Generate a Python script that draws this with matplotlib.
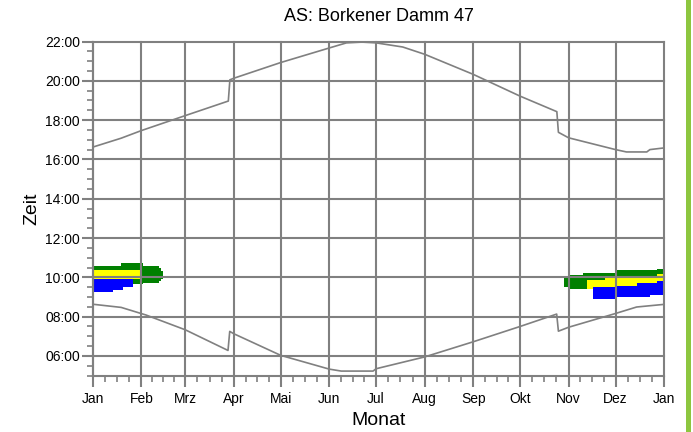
import matplotlib
matplotlib.use("Agg")
import matplotlib.pyplot as plt
from matplotlib.patches import Rectangle
import numpy as np

plt.rcParams['font.family'] = ['Liberation Sans', 'DejaVu Sans']

# ---- data (day of year, hour of day) ----
month_starts = [0, 31, 59, 90, 120, 151, 181, 212, 243, 273, 304, 334, 365]
month_labels = ["Jan", "Feb", "Mrz", "Apr", "Mai", "Jun", "Jul", "Aug", "Sep", "Okt", "Nov", "Dez", "Jan"]
hour_ticks = [6, 8, 10, 12, 14, 16, 18, 20, 22]
hour_labels = ["06:00", "08:00", "10:00", "12:00", "14:00", "16:00", "18:00", "20:00", "22:00"]

sunset_days = [0, 18, 31, 59, 86.5, 87.5, 90, 120, 151, 162, 172, 181, 198, 212, 243, 273, 296.5, 297.5, 304, 334, 341, 354, 356, 364.5]
sunset_hours = [16.63, 17.08, 17.47, 18.23, 18.97, 20.05, 20.13, 20.93, 21.67, 21.93, 21.97, 21.93, 21.72, 21.35, 20.33, 19.22, 18.43, 17.38, 17.1, 16.5, 16.38, 16.38, 16.5, 16.58]

sunrise_days = [0, 18, 34, 59, 86.3, 87.4, 90, 120, 151, 158.7, 179, 181, 212, 243, 273, 296.4, 297.5, 304, 334, 347.5, 364.5]
sunrise_hours = [8.63, 8.47, 8.08, 7.33, 6.28, 7.25, 7.13, 6.03, 5.33, 5.23, 5.23, 5.35, 5.95, 6.72, 7.5, 8.13, 7.26, 7.46, 8.16, 8.49, 8.62]

# shadow periods: left block (Jan/Feb)
green_l_days = [0, 18, 32, 42, 43.5, 44.5]
green_l_lo = [9.65, 9.65, 9.7, 9.8, 9.9, 9.9]
green_l_hi = [10.57, 10.74, 10.6, 10.45, 10.3, 10.3]
yellow_l_days = [0.2, 30]
yellow_l_lo = [9.92, 9.92]
yellow_l_hi = [10.35, 10.35]
blue_l_days = [0.6, 12.8, 19.2, 25.6]
blue_l_lo = [9.24, 9.38, 9.53, 9.53]
blue_l_hi = [9.89, 9.89, 9.89, 9.89]

# right block (Nov/Dez)
green_r_days = [301, 305, 313.4, 334.7, 360.3, 365]
green_r_lo = [9.53, 9.41, 9.41, 9.5, 9.5, 9.5]
green_r_hi = [10.01, 10.14, 10.23, 10.35, 10.43, 10.43]
yellow_r_days = [315.5, 327.3, 360.3, 365]
yellow_r_lo = [9.41, 9.53, 9.53, 9.53]
yellow_r_hi = [9.84, 10.01, 10.18, 10.18]
blue_r_days = [319.4, 334.7, 347.5, 356, 360.3, 365]
blue_r_lo = [8.9, 8.99, 8.99, 9.12, 9.12, 9.12]
blue_r_hi = [9.5, 9.58, 9.7, 9.7, 9.8, 9.8]

GREEN = '#008000'
YELLOW = '#ffff00'
BLUE = '#0000ff'
GRID = '#808080'

fig = plt.figure(figsize=(6.93, 4.32), dpi=100)
ax = fig.add_axes([93/693, 1-375.6/432, (664-93)/693, (375.6-41.5)/432])

for d, lo, hi, c in [
    (green_l_days, green_l_lo, green_l_hi, GREEN),
    (green_r_days, green_r_lo, green_r_hi, GREEN),
    (yellow_l_days, yellow_l_lo, yellow_l_hi, YELLOW),
    (yellow_r_days, yellow_r_lo, yellow_r_hi, YELLOW),
    (blue_l_days, blue_l_lo, blue_l_hi, BLUE),
    (blue_r_days, blue_r_lo, blue_r_hi, BLUE),
]:
    ax.fill_between(d, lo, hi, step='post', color=c, linewidth=0, zorder=1)

ax.plot(sunset_days, sunset_hours, color=GRID, lw=1.2, zorder=3)
ax.plot(sunrise_days, sunrise_hours, color=GRID, lw=1.2, zorder=3)

ax.set_xlim(0, 365)
ax.set_ylim(5, 22)
ax.set_xticks(month_starts)
ax.set_xticklabels(month_labels)
ax.set_yticks(hour_ticks)
ax.set_yticklabels(hour_labels)

minor_x = []
for a, b in zip(month_starts[:-1], month_starts[1:]):
    for k in (1, 2, 3):
        minor_x.append(a + (b - a) * k / 4)
ax.set_xticks(minor_x, minor=True)
ax.set_yticks(np.arange(5, 22.01, 0.5), minor=True)

ax.grid(True, which='major', color=GRID, lw=1.5, clip_on=False)
ax.set_axisbelow(False)

for s in ('top', 'right'):
    ax.spines[s].set_visible(False)
for s in ('left', 'bottom'):
    ax.spines[s].set_color(GRID)
    ax.spines[s].set_linewidth(1.5)

ax.tick_params(axis='both', which='major', direction='out', length=8, width=1.5,
               color=GRID, labelsize=10, labelcolor='black')
ax.tick_params(axis='both', which='minor', direction='out', length=4, width=1.2, color=GRID)
ax.tick_params(axis='x', which='major', pad=4)
ax.tick_params(axis='y', which='major', pad=1.5)

ax.set_title("AS: Borkener Damm 47", fontsize=13, pad=15)
ax.set_xlabel("Monat", fontsize=14, labelpad=4)
ax.set_ylabel("Zeit", fontsize=14, labelpad=3)

fig.add_artist(Rectangle((686/693, 0), 5/693, 1, transform=fig.transFigure,
                         color='#8dc63f', lw=0))

fig.savefig("out.png", dpi=100)
